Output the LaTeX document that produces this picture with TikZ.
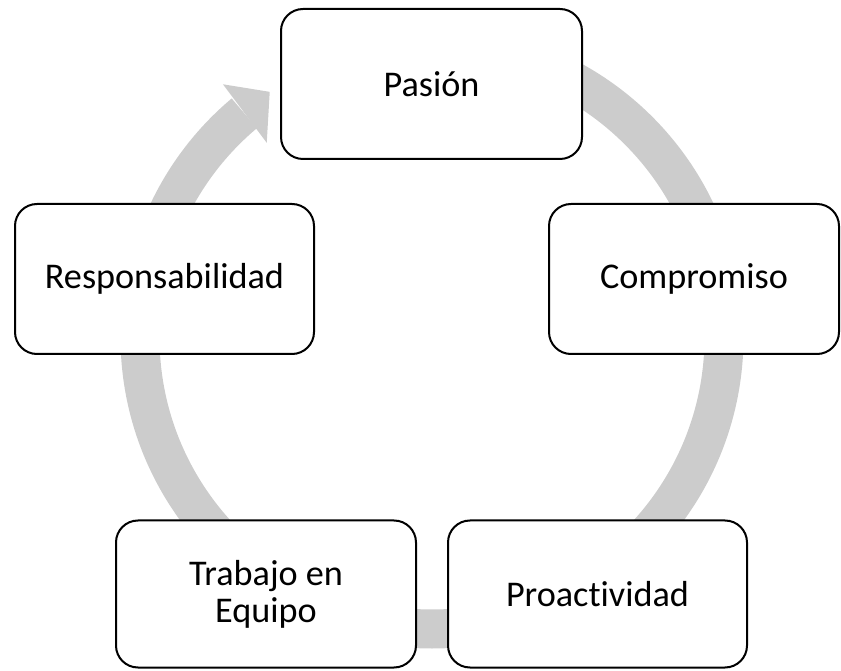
\documentclass[tikz,border=0pt]{standalone}
\usepackage{fontspec}
\setmainfont{Carlito}[Ligatures=NoCommon]
\usetikzlibrary{calc}
\definecolor{ringgray}{RGB}{204,204,204}
\begin{document}
\begin{tikzpicture}[x=1pt,y=1pt,
  box/.style={draw=black, line width=2pt, fill=white, rounded corners=22pt,
    minimum height=150pt, inner sep=0pt, outer sep=0pt, align=center,
    font=\fontsize{36.2}{37}\selectfont},
  ring/.style={draw=ringgray, line width=39pt, line cap=butt},
  head/.style={fill=ringgray, draw=none}]
\useasboundingbox (0,0) rectangle (841,670);
\coordinate (c) at (432,333);
% circular arrow behind the boxes
\draw[ring] ($(c)+(90:292)$) arc[start angle=90, end angle=-230, radius=292];
\fill[head] ($(c)+(129.6:328)$) -- ($(c)+(123.5:294)$) -- ($(c)+(130.4:255)$) -- cycle;
% boxes
\node[box, minimum width=301pt] (pas) at (431.5,586) {Pasión};
\node[box, minimum width=290pt] (com) at (694,391) {Compromiso};
\node[box, minimum width=299pt] (res) at (164.5,391) {Responsabilidad};
\node[box, minimum width=300pt, minimum height=147pt] (tra) at (266,76) {Trabajo en\\Equipo};
\node[box, minimum width=299pt, minimum height=147pt] (pro) at (597.5,76) {Proactividad};
\end{tikzpicture}
\end{document}
